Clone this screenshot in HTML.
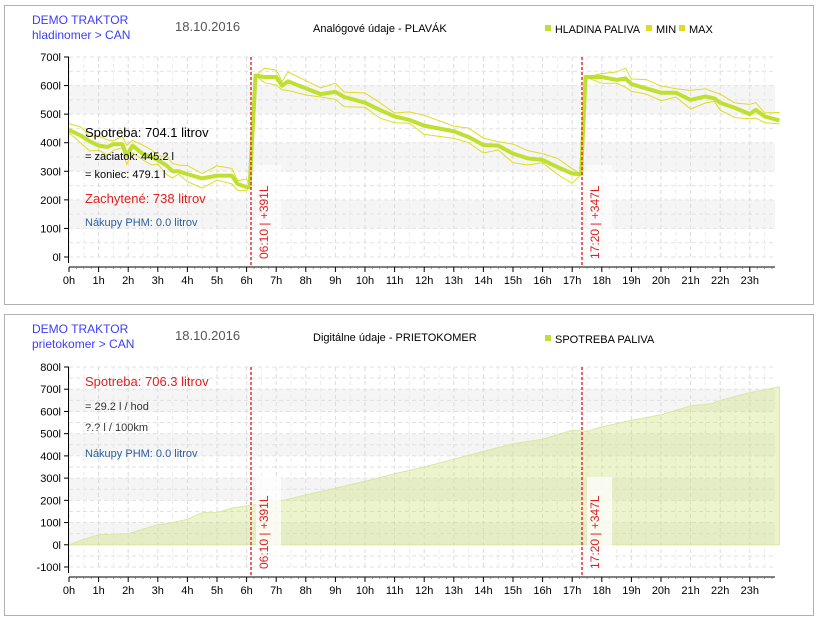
<!DOCTYPE html>
<html><head><meta charset="utf-8"><style>
body{margin:0;background:#fff;}
svg{display:block;font-family:"Liberation Sans",sans-serif;}
</style></head><body>
<svg id="s" width="821" height="620" xmlns="http://www.w3.org/2000/svg"></svg>
<script>
const s=document.getElementById('s');let h='';
const X0=69,DX=29.6;const xh=t=>X0+t*DX;
function chart(o){
 const {top,bot,yTop,yBot,vTop,vBot}=o;
 const yv=v=>yBot-(v-vBot)*(yBot-yTop)/(vTop-vBot);
 h+=`<rect x="4.5" y="${top+.5}" width="809" height="${bot-top}" fill="#fff" stroke="#b0b0b0"/>`;
 for(const b of o.bands) h+=`<rect x="${X0}" y="${yv(b+100)}" width="706" height="${yv(b)-yv(b+100)}" fill="#f5f5f5"/>`;
 for(let v=vBot;v<=vTop;v+=50){h+=`<line x1="${X0}" x2="775" y1="${yv(v)}" y2="${yv(v)}" stroke="#e2e2e2" stroke-dasharray="4,3"/>`;}
 for(let t=0;t<24;t+=0.5){h+=`<line x1="${xh(t)}" x2="${xh(t)}" y1="${yTop}" y2="${yBot}" stroke="${t%1?'#ececec':'#dcdcdc'}" stroke-dasharray="4,3"/>`;}
 o.draw(yv);
 h+=`<line x1="${X0-0.5}" x2="${X0-0.5}" y1="${yTop}" y2="${yBot+6}" stroke="#000"/>`;
 const ax=yBot+10;
 h+=`<line x1="${X0}" x2="775" y1="${ax}" y2="${ax}" stroke="#000"/>`;
 for(let v=vBot;v<=vTop;v+=100){h+=`<line x1="${X0-5}" x2="${X0}" y1="${yv(v)}" y2="${yv(v)}" stroke="#000"/><text x="${X0-8}" y="${yv(v)+4}" font-size="11" text-anchor="end">${v}l</text>`;}
 for(let t=0;t<24;t++){h+=`<line x1="${xh(t)}" x2="${xh(t)}" y1="${ax}" y2="${ax+5}" stroke="#000"/><text x="${xh(t)}" y="${ax+17}" font-size="11" text-anchor="middle">${t}h</text>`;}
 for(let t=0.25;t<24;t+=0.25){if(t%1) h+=`<line x1="${xh(t)}" x2="${xh(t)}" y1="${ax}" y2="${ax+2}" stroke="#666" stroke-width="0.7"/>`;}
 [[251,'06:10 | +391L'],[582,'17:20 | +347L']].forEach(([x,l])=>{
  h+=`<rect x="${x+5}" y="${o.lblTop}" width="25" height="${yBot+1-o.lblTop}" fill="#fff" opacity="${o.lblOp}"/>`;
  h+=`<line x1="${x}" x2="${x}" y1="${yTop}" y2="${yBot+10}" stroke="#e83030" stroke-width="1.5" stroke-dasharray="3,2"/>`;
  h+=`<text transform="translate(${x+17},${yBot+2}) rotate(-90)" font-size="12" fill="#e02020">${l}</text>`;});
 h+=`<text x="32" y="${top+19}" font-size="12" fill="#3c3cff">DEMO TRAKTOR</text><text x="32" y="${top+34}" font-size="12" fill="#3c3cff">${o.sub}</text>`;
 h+=`<text x="175" y="${top+26}" font-size="13" fill="#555">18.10.2016</text>`;
 h+=`<text x="${o.tx}" y="${top+27}" font-size="11" fill="#000">${o.title}</text>`;
 h+=o.legend+o.texts;
}
const P=[[0,445],[0.4,425],[0.7,405],[1,390],[1.3,385],[1.5,395],[1.8,395],[1.95,355],[2.15,390],[2.5,360],[2.8,350],[3,340],[3.3,320],[3.5,300],[3.7,300],[4,290],[4.5,275],[5,285],[5.5,285],[5.7,255],[6,245],[6.1,245],[6.3,635],[6.6,630],[7,630],[7.2,600],[7.4,615],[8,590],[8.5,570],[9,578],[9.3,560],[10,540],[10.5,515],[11,492],[11.5,480],[12,460],[13,440],[13.5,420],[14,392],[14.5,390],[15,362],[15.5,345],[16,340],[16.5,315],[17,292],[17.3,290],[17.45,630],[18,630],[18.5,620],[18.8,625],[19,605],[19.5,590],[20,575],[20.5,575],[21,550],[21.5,562],[21.8,555],[22,540],[22.5,522],[23,500],[23.2,515],[23.5,492],[24,478]];
chart({top:5,bot:304,yTop:57,yBot:257,vTop:700,vBot:0,bands:[500,300,100],lblTop:165,lblOp:0.55,sub:'hladinomer &gt; CAN',tx:313,title:'Analógové údaje - PLAVÁK',
draw:yv=>{
 const pts=(f)=>P.map(([t,v],i)=>`${xh(t).toFixed(1)},${yv(f(v,i,t)).toFixed(1)}`).join(' ');
 const n=i=>[0,8,-5,12,3,-10,6,14,-4,9,2,-8,11,5][i%14];
 const j=t=>(t>6.05&&t<6.35)||(t>17.2&&t<17.5);
 h+=`<polyline points="${pts((v,i,t)=>j(t)?v:v+22+n(i))}" fill="none" stroke="#e0dc20" stroke-width="1"/>`;
 h+=`<polyline points="${pts((v,i,t)=>j(t)?v:v-20-n(i+5))}" fill="none" stroke="#e0dc20" stroke-width="1"/>`;
 h+=`<polyline points="${pts(v=>v)}" fill="none" stroke="#bfe030" stroke-width="4" stroke-linejoin="round"/>`;
},
legend:`<rect x="545" y="25" width="6" height="6" fill="#bfe030"/><text x="555" y="33" font-size="11" textLength="85" lengthAdjust="spacingAndGlyphs">HLADINA PALIVA</text><rect x="646" y="25" width="6" height="6" fill="#e0dc20"/><text x="656" y="33" font-size="11">MIN</text><rect x="679" y="25" width="6" height="6" fill="#e0dc20"/><text x="689" y="33" font-size="11">MAX</text>`,
texts:`<text x="85" y="137" font-size="13">Spotreba: 704.1 litrov</text><text x="85" y="160" font-size="11">= zaciatok: 445.2 l</text><text x="85" y="178" font-size="11">= koniec: 479.1 l</text><text x="85" y="203" font-size="13" fill="#e02020">Zachytené: 738 litrov</text><text x="85" y="226" font-size="11" fill="#2b5ea0">Nákupy PHM: 0.0 litrov</text>`});
const Q=[[0,0],[0.5,25],[1,45],[2,50],[2.5,70],[3,90],[3.5,100],[4,115],[4.5,145],[5,145],[5.5,165],[6,175],[7.1,195],[8,225],[9,255],[10,285],[11,320],[12,350],[13,385],[14,420],[15,455],[16,475],[17,515],[17.5,510],[18,530],[19,560],[20,585],[21,625],[21.7,635],[22,650],[23,685],[24,710]];
chart({top:314,bot:615,yTop:367,yBot:567,vTop:800,vBot:-100,bands:[600,400,200,0],lblTop:477,lblOp:0.75,sub:'prietokomer &gt; CAN',tx:313,title:'Digitálne údaje - PRIETOKOMER',
draw:yv=>{
 h+=`<polygon points="${xh(0)},${yv(0)} ${Q.map(([t,v])=>xh(t).toFixed(1)+','+yv(v).toFixed(1)).join(' ')} ${xh(24)},${yv(0)}" fill="#c8e070" fill-opacity="0.35" stroke="#d8e8a0" stroke-width="1"/>`;
},
legend:`<rect x="545" y="335" width="6" height="6" fill="#bfe030"/><text x="555" y="343" font-size="11">SPOTREBA PALIVA</text>`,
texts:`<text x="85" y="386" font-size="13" fill="#e02020">Spotreba: 706.3 litrov</text><text x="85" y="410" font-size="11" fill="#333">= 29.2 l / hod</text><text x="85" y="431" font-size="11" fill="#333">?.? l / 100km</text><text x="85" y="457" font-size="11" fill="#2b5ea0">Nákupy PHM: 0.0 litrov</text>`});
s.innerHTML=h;
</script>
</body></html>
